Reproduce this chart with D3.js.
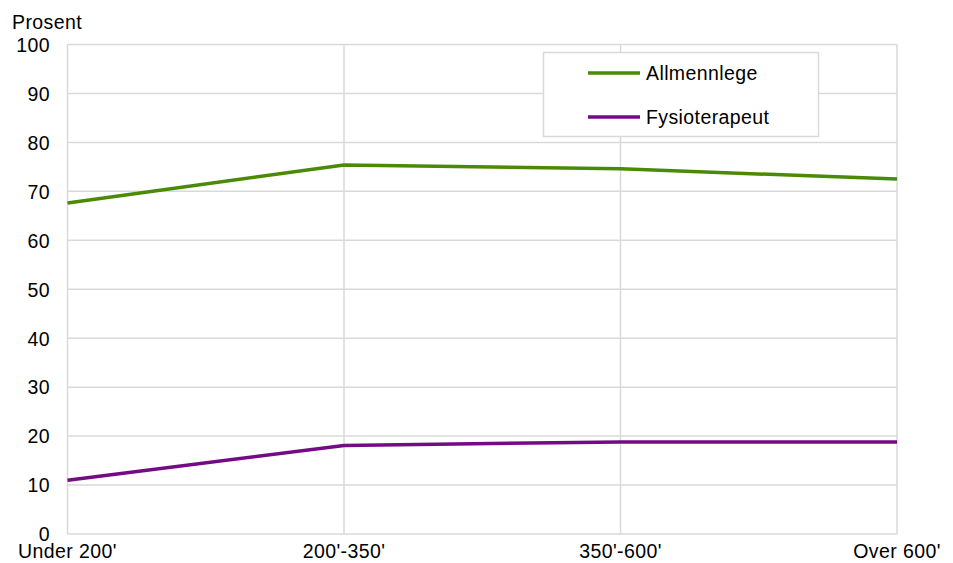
<!DOCTYPE html>
<html>
<head>
<meta charset="utf-8">
<script src="https://cdn.jsdelivr.net/npm/d3@7"></script>
<style>
  html, body { margin: 0; padding: 0; background: #fff; }
  svg { display: block; font-family: "Liberation Sans", Arial, sans-serif; }
  svg text { letter-spacing: 0.4px; }
</style>
</head>
<body>
<svg id="chart" width="953" height="563"></svg>
<script>
// Income groups along the x axis
const categories = ["Under 200'", "200'-350'", "350'-600'", "Over 600'"];
// Share (percent) who visited each type of provider
const allmennlege = [67.6, 75.4, 74.6, 72.5];
const fysioterapeut = [11.0, 18.1, 18.8, 18.8];
const seriesNames = ["Allmennlege", "Fysioterapeut"];
const seriesColors = ["#4b8a06", "#740a86"];
const yTicks = [0, 10, 20, 30, 40, 50, 60, 70, 80, 90, 100];
const yTitle = "Prosent";

const series = [
  { name: seriesNames[0], color: seriesColors[0], values: allmennlege },
  { name: seriesNames[1], color: seriesColors[1], values: fysioterapeut }
];

const svg = d3.select("#chart");
const margin = { left: 67.5, right: 56, top: 44.5, bottom: 29 };
const W = 953, H = 563;
const fs = 19.5;

const x = d3.scalePoint().domain(categories).range([margin.left, W - margin.right]);
const y = d3.scaleLinear().domain([0, 100]).range([H - margin.bottom, margin.top]);

const grid = "#d9d9d9";

// horizontal gridlines
svg.append("g").selectAll("line").data(yTicks).join("line")
  .attr("x1", margin.left).attr("x2", W - margin.right)
  .attr("y1", d => y(d)).attr("y2", d => y(d))
  .attr("stroke", grid).attr("stroke-width", 1.5);

// vertical gridlines at each category
svg.append("g").selectAll("line").data(categories).join("line")
  .attr("x1", d => x(d)).attr("x2", d => x(d))
  .attr("y1", y(0)).attr("y2", y(100))
  .attr("stroke", grid).attr("stroke-width", 1.5);

// y axis labels, digits centred on their gridline
svg.append("g").selectAll("text").data(yTicks).join("text")
  .attr("x", 50).attr("y", d => y(d) + 0.5)
  .attr("dy", "0.35em")
  .attr("text-anchor", "end")
  .attr("font-size", fs).attr("fill", "#000")
  .text(d => d);

// x axis labels
svg.append("g").selectAll("text").data(categories).join("text")
  .attr("x", d => x(d)).attr("y", H - 5)
  .attr("text-anchor", "middle")
  .attr("font-size", fs).attr("fill", "#000")
  .text(d => d);

// y title
svg.append("text")
  .attr("x", 12).attr("y", 29)
  .attr("font-size", fs).attr("fill", "#000")
  .text(yTitle);

// series lines
const line = d3.line().x((d, i) => x(categories[i])).y(d => y(d));
svg.append("g").selectAll("path").data(series).join("path")
  .attr("d", d => line(d.values))
  .attr("fill", "none")
  .attr("stroke", d => d.color)
  .attr("stroke-width", 3.5)
  .attr("stroke-linejoin", "round");

// legend
const lg = svg.append("g");
lg.append("rect")
  .attr("x", 543.5).attr("y", 52.5).attr("width", 275).attr("height", 84)
  .attr("fill", "#fff").attr("stroke", grid).attr("stroke-width", 1.5);
const items = lg.selectAll("g").data(series).join("g")
  .attr("transform", (d, i) => `translate(0, ${73 + i * 44})`);
items.append("line")
  .attr("x1", 588).attr("x2", 640).attr("y1", 0).attr("y2", 0)
  .attr("stroke", d => d.color).attr("stroke-width", 3.5);
items.append("text")
  .attr("x", 646).attr("y", 0).attr("dy", "0.35em")
  .attr("font-size", fs).attr("fill", "#000")
  .text(d => d.name);
</script>
</body>
</html>
